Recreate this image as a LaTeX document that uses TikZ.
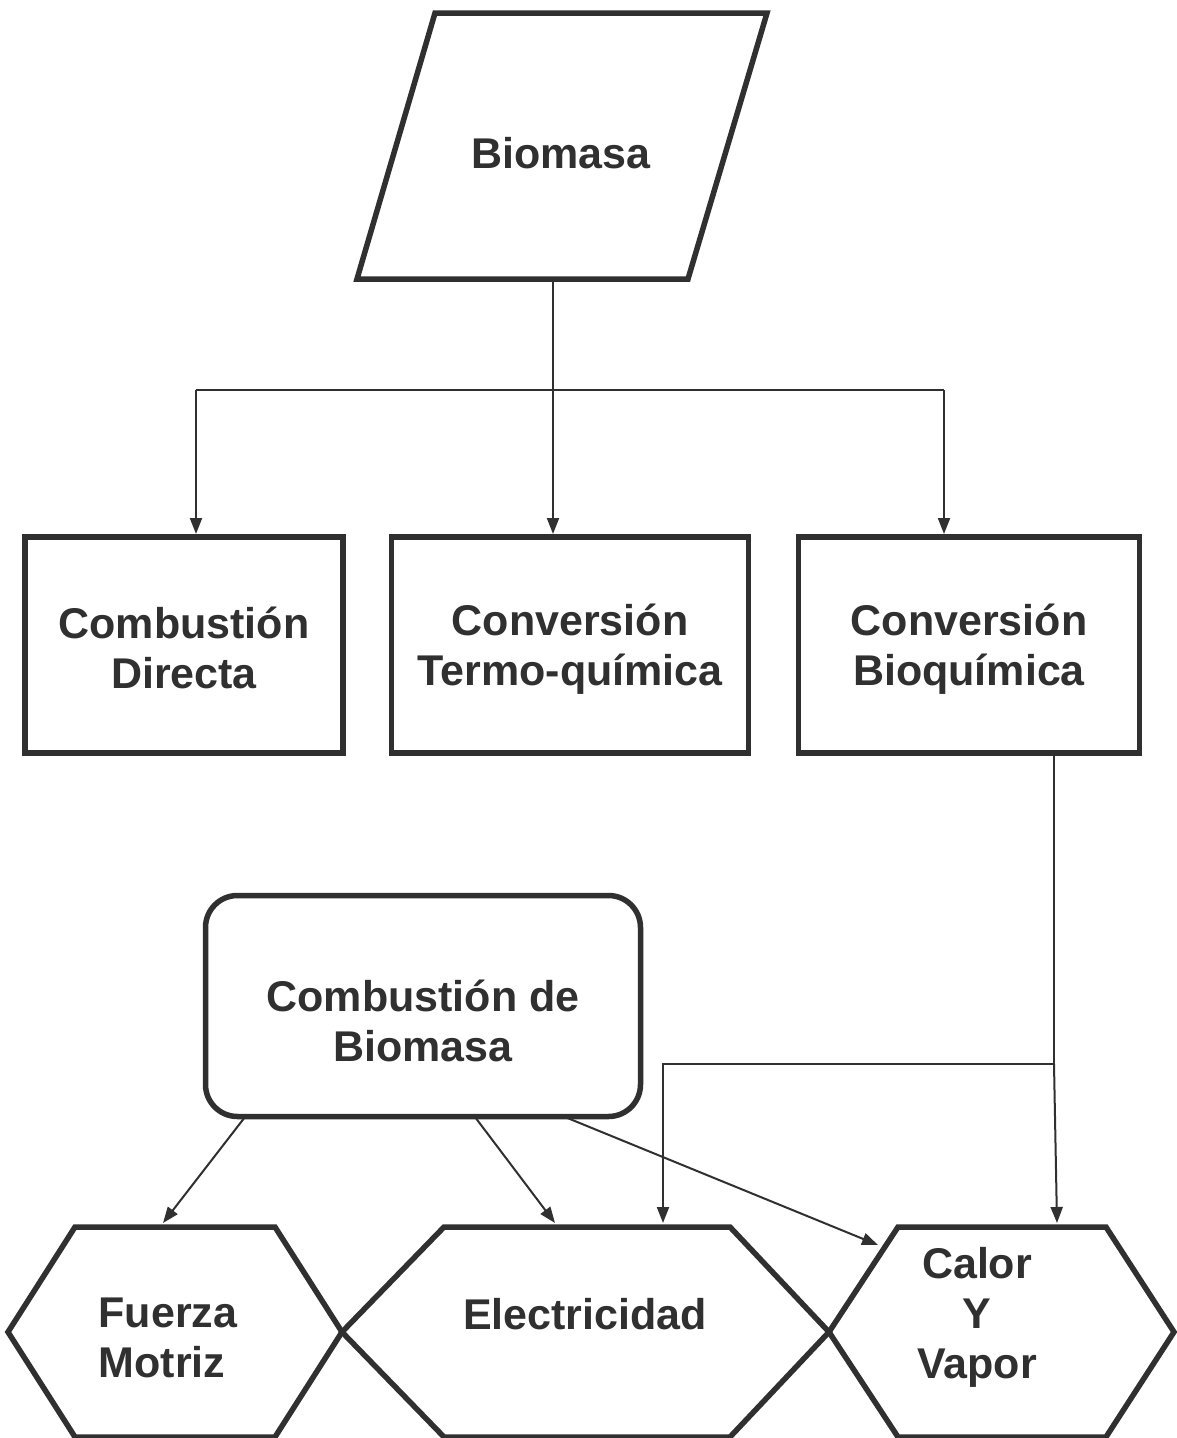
\documentclass[tikz,border=0pt]{standalone}
\usepackage{fontspec}
\setmainfont{Liberation Sans}
\usetikzlibrary{arrows.meta}
\definecolor{ink}{HTML}{303030}
\begin{document}
\begin{tikzpicture}[x=1pt,y=-1pt,
  shp/.style={draw=ink,line width=5.5pt,line join=miter},
  txt/.style={font=\bfseries\fontsize{43}{50}\selectfont,text=ink,align=center},
  conn/.style={draw=ink,line width=2pt},
  arr/.style={conn,-{Triangle[length=16pt,width=12pt]}},
  boxn/.style={shp,rectangle,inner sep=0pt,minimum height=216pt}]
\path[use as bounding box,fill=white] (0,0) rectangle (1176,1438);

% Biomasa parallelogram
\draw[shp] (435,13) -- (767,13) -- (688,279) -- (357,279) -- cycle;
\node[txt] (bio) at (561,153) {Biomasa};
\coordinate (bioS) at (553,279);
\coordinate (split) at (553,390);

% conversion boxes
\node[boxn,minimum width=318pt] (b1) at (184,645) {};
\node[boxn,minimum width=357pt] (b2) at (570,645) {};
\node[boxn,minimum width=341pt] (b3) at (969,645) {};
\node[txt] (b1t) at (184,648) {Combusti\'on\\Directa};
\node[txt] (b2t) at (570,649) {Conversi\'on\\Termo-qu\'imica};
\node[txt] (b3t) at (969,649) {Conversi\'on\\Bioqu\'imica};

% combustion rounded box
\node[shp,rectangle,rounded corners=32pt,minimum width=435pt,minimum height=221pt] (cb) at (423,1006) {};
\node[txt] (cbt) at (423,1021) {Combusti\'on de\\Biomasa};

% hexagons
\draw[shp] (8,1332) -- (75,1227) -- (275,1227) -- (342,1332) -- (275,1437) -- (75,1437) -- cycle;
\draw[shp] (342,1332) -- (444,1227) -- (730,1227) -- (829,1332) -- (730,1437) -- (444,1437) -- cycle;
\draw[shp] (829,1332) -- (898,1227) -- (1106,1227) -- (1174,1332) -- (1106,1437) -- (898,1437) -- cycle;
\node[txt,align=left] (h1) at (168,1338) {Fuerza\\Motriz};
\node[txt] (h2) at (585,1314) {Electricidad};
\node[txt] (h3) at (977,1317) {Calor\\Y\\Vapor};

% connector end points
\coordinate (b1in) at (196,534);
\coordinate (b2in) at (553,534);
\coordinate (b3in) at (944,534);
\coordinate (b3out) at (1054,752);
\coordinate (join) at (1054,1064);
\coordinate (elbow) at (663,1064);
\coordinate (h2in) at (663,1223);
\coordinate (h3in) at (1057,1223);
\coordinate (cbA) at (245,1117);
\coordinate (cbB) at (475,1117);
\coordinate (cbC) at (565,1117);
\coordinate (h1in) at (163,1223);
\coordinate (h2inb) at (555,1223);
\coordinate (h3inb) at (878,1245);

% connectors
\draw[conn] (bioS) -- (split);
\draw[conn] (b1in |- split) -- (b3in |- split);
\draw[arr] (split) -- (b2in);
\draw[arr] (b1in |- split) -- (b1in);
\draw[arr] (b3in |- split) -- (b3in);
\draw[conn] (b3out) -- (join);
\draw[arr] (join) -- (h3in);
\draw[arr] (join) -- (elbow) -- (h2in);
\draw[arr] (cbA) -- (h1in);
\draw[arr] (cbB) -- (h2inb);
\draw[arr] (cbC) -- (h3inb);
\end{tikzpicture}
\end{document}
